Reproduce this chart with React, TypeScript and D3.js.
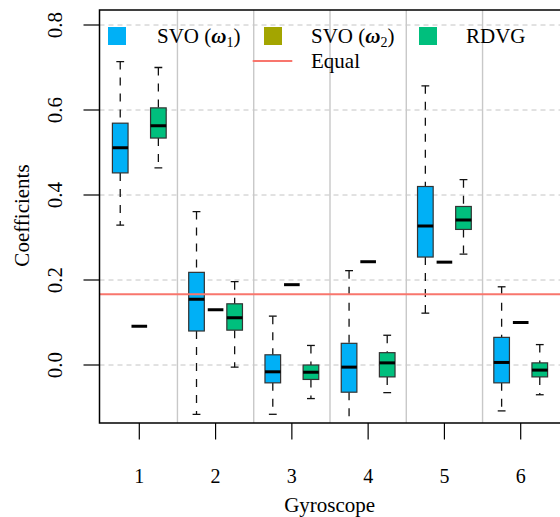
import * as d3 from "d3"

const groups = ["1", "2", "3", "4", "5", "6"]

// SVO (omega 1) box stats
const svo1Low = [0.329, -0.116, -0.116, -0.16, 0.122, -0.108]
const svo1Q1 = [0.452, 0.08, -0.042, -0.064, 0.254, -0.042]
const svo1Med = [0.511, 0.155, -0.016, -0.005, 0.327, 0.006]
const svo1Q3 = [0.569, 0.218, 0.024, 0.051, 0.42, 0.065]
const svo1High = [0.714, 0.361, 0.115, 0.222, 0.657, 0.184]

// SVO (omega 2) is constant per gyroscope
const svo2 = [0.091, 0.13, 0.189, 0.243, 0.242, 0.1]

// RDVG box stats
const rdvgLow = [0.464, -0.005, -0.079, -0.065, 0.261, -0.07]
const rdvgQ1 = [0.534, 0.082, -0.034, -0.028, 0.319, -0.028]
const rdvgMed = [0.563, 0.111, -0.017, 0.005, 0.341, -0.012]
const rdvgQ3 = [0.605, 0.144, 0.0, 0.029, 0.373, 0.005]
const rdvgHigh = [0.7, 0.196, 0.046, 0.07, 0.436, 0.048]

const equalValue = 1 / 6
const yTicks = [0, 0.2, 0.4, 0.6, 0.8]

const W = 560
const H = 517
const left = 99.5
const top = 10
const bottom = 423
const right = 620
const font = "'Liberation Serif'"

const blue = "#00B0F6"
const olive = "#A3A500"
const green = "#00BF7D"
const salmon = "#F8766D"

export default function App() {
  const x = d3.scaleLinear().domain([1, 6]).range([139.3, 520.7])
  const y = d3.scaleLinear().domain([0, 0.8]).range([365, 25])
  const unit = x(2) - x(1)
  const boxW = unit * 0.205
  const offset = unit * 0.25

  const makeBoxes = (lo: number[], q1: number[], med: number[], q3: number[], hi: number[]) =>
    groups.map((g, i) => ({ g: +g, lo: lo[i], q1: q1[i], med: med[i], q3: q3[i], hi: hi[i] }))

  const series = [
    { color: blue, shift: -offset, boxes: makeBoxes(svo1Low, svo1Q1, svo1Med, svo1Q3, svo1High) },
    { color: green, shift: offset, boxes: makeBoxes(rdvgLow, rdvgQ1, rdvgMed, rdvgQ3, rdvgHigh) },
  ]

  const capW = boxW * 0.5
  const txt = { fontFamily: font }

  return (
    <svg width={W} height={H} style={{ position: "absolute", left: 0, top: 0 }}>
      <defs>
        <clipPath id="plot">
          <rect x={left} y={top} width={right - left} height={bottom - top} />
        </clipPath>
      </defs>

      <g clipPath="url(#plot)">
        {/* horizontal grid */}
        {yTicks.map((t) => (
          <line key={t} x1={left} x2={right} y1={y(t)} y2={y(t)} stroke="#c4c4c4" strokeWidth={1} strokeDasharray="5,4" />
        ))}
        {/* group separators */}
        {groups.slice(1).map((g) => (
          <line key={g} x1={x(+g - 0.5)} x2={x(+g - 0.5)} y1={top} y2={bottom} stroke="#c8c8c8" strokeWidth={1.4} />
        ))}

        {series.map((s, si) =>
          s.boxes.map((b) => {
            const cx = x(b.g) + s.shift
            return (
              <g key={`${si}-${b.g}`}>
                <line x1={cx} x2={cx} y1={y(b.hi)} y2={y(b.q3)} stroke="#111" strokeWidth={1.3} strokeDasharray="8,8" />
                <line x1={cx} x2={cx} y1={y(b.q1)} y2={y(b.lo)} stroke="#111" strokeWidth={1.3} strokeDasharray="8,8" />
                <line x1={cx - capW / 2} x2={cx + capW / 2} y1={y(b.hi)} y2={y(b.hi)} stroke="#111" strokeWidth={1.3} />
                <line x1={cx - capW / 2} x2={cx + capW / 2} y1={y(b.lo)} y2={y(b.lo)} stroke="#111" strokeWidth={1.3} />
                <rect x={cx - boxW / 2} y={y(b.q3)} width={boxW} height={y(b.q1) - y(b.q3)} fill={s.color} stroke="#333" strokeWidth={1.2} />
                <line x1={cx - boxW / 2} x2={cx + boxW / 2} y1={y(b.med)} y2={y(b.med)} stroke="#000" strokeWidth={3} />
              </g>
            )
          })
        )}

        {/* SVO (omega 2): degenerate boxes */}
        {svo2.map((v, i) => {
          const cx = x(+groups[i])
          return <line key={i} x1={cx - boxW / 2} x2={cx + boxW / 2} y1={y(v)} y2={y(v)} stroke="#000" strokeWidth={3} />
        })}

        <line x1={left} x2={right} y1={y(equalValue)} y2={y(equalValue)} stroke={salmon} strokeWidth={2} />
      </g>

      {/* frame */}
      <path d={`M${right},${top}H${left}V${bottom}H${right}`} fill="none" stroke="#000" strokeWidth={1.5} />

      {/* y axis */}
      {yTicks.map((t) => (
        <g key={t}>
          <line x1={83.5} x2={left} y1={y(t)} y2={y(t)} stroke="#000" strokeWidth={1.2} />
          <text style={txt} transform={`translate(62,${y(t)}) rotate(-90)`} textAnchor="middle" fontSize={21}>
            {d3.format(".1f")(t)}
          </text>
        </g>
      ))}
      <text style={txt} transform="translate(28.5,215.5) rotate(-90)" textAnchor="middle" fontSize={21}>
        Coefficients
      </text>

      {/* x axis */}
      {groups.map((g) => (
        <g key={g}>
          <line x1={x(+g)} x2={x(+g)} y1={bottom} y2={439.5} stroke="#000" strokeWidth={1.2} />
          <text style={txt} x={x(+g)} y={483} textAnchor="middle" fontSize={20}>
            {g}
          </text>
        </g>
      ))}
      <text style={txt} x={329.7} y={512} textAnchor="middle" fontSize={21}>
        Gyroscope
      </text>

      {/* legend */}
      <rect x={108} y={27} width={18} height={18} fill={blue} />
      <text style={txt} x={157} y={43.3} fontSize={21}>
        SVO (<tspan fontStyle="italic" fontWeight="bold">ω</tspan>
        <tspan fontSize={14} dy={4}>1</tspan>
        <tspan dy={-4}>)</tspan>
      </text>
      <rect x={264} y={27} width={18} height={18} fill={olive} />
      <text style={txt} x={311} y={43.3} fontSize={21}>
        SVO (<tspan fontStyle="italic" fontWeight="bold">ω</tspan>
        <tspan fontSize={14} dy={4}>2</tspan>
        <tspan dy={-4}>)</tspan>
      </text>
      <rect x={419} y={27} width={18} height={18} fill={green} />
      <text style={txt} x={466} y={43.3} fontSize={21}>
        RDVG
      </text>
      <line x1={252.7} x2={292.3} y1={61} y2={61} stroke={salmon} strokeWidth={2} />
      <text style={txt} x={311} y={67.5} fontSize={21}>
        Equal
      </text>
    </svg>
  )
}
